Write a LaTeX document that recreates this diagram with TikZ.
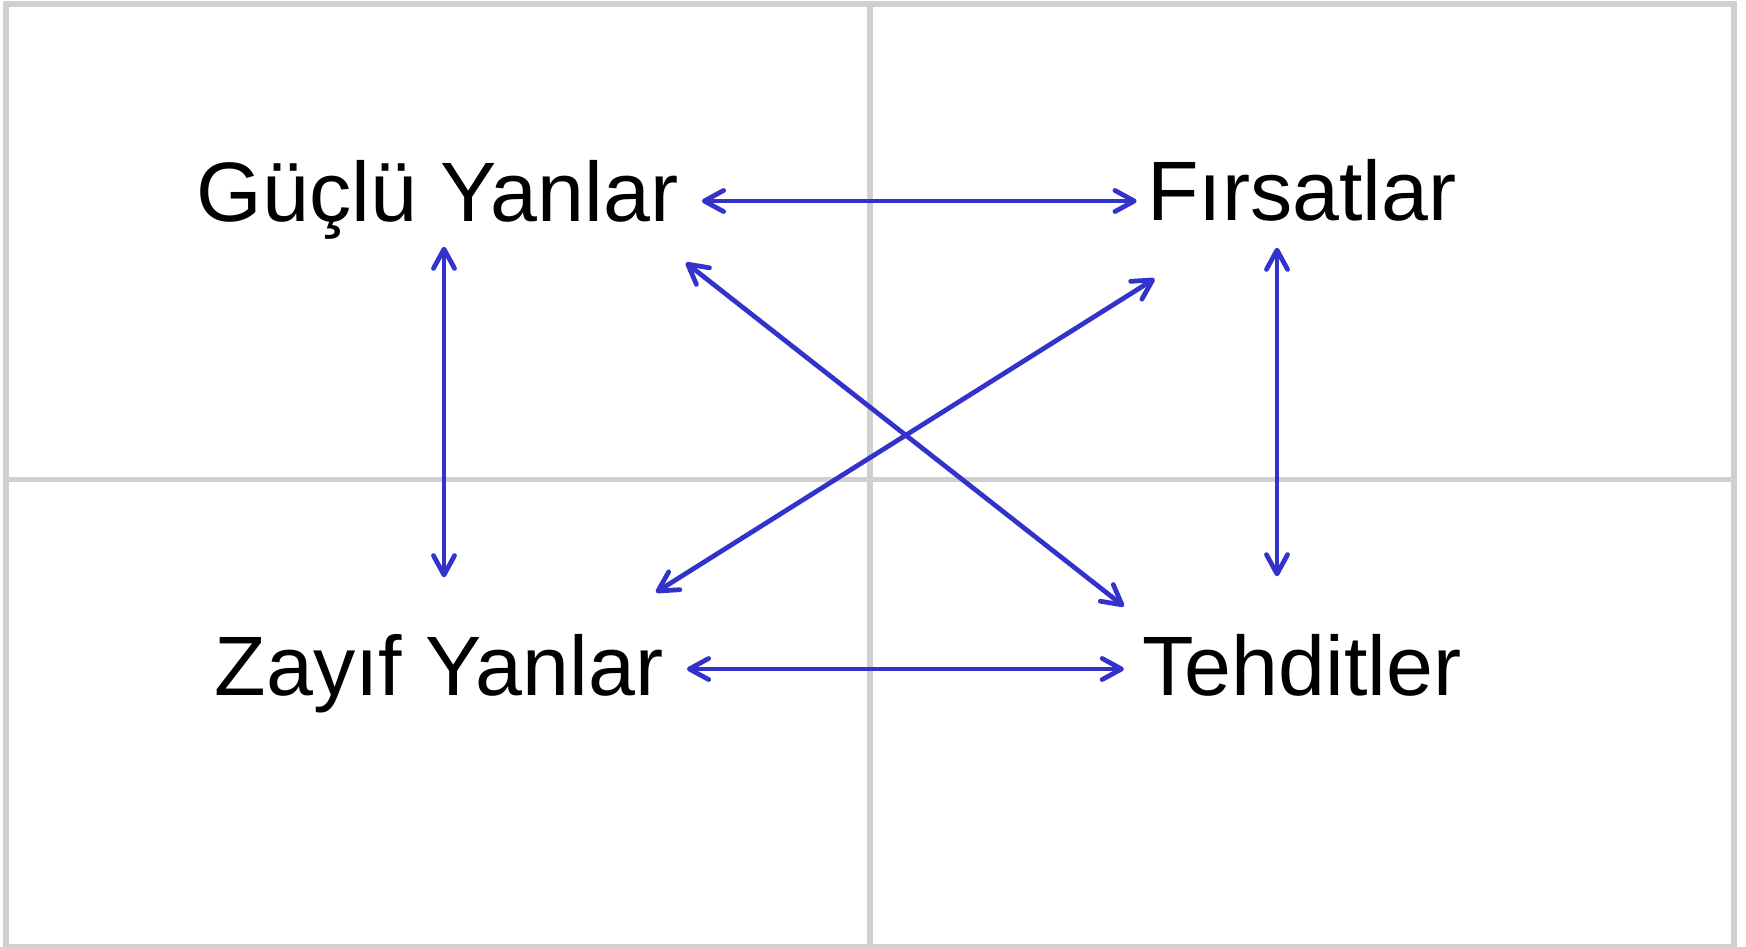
\documentclass[tikz,border=0pt]{standalone}
\usepackage{fontspec}
\setmainfont{Liberation Sans}
\usetikzlibrary{arrows.meta}
\definecolor{swotblue}{RGB}{51,51,204}
\definecolor{gridgray}{RGB}{208,208,208}
\tikzset{
  lbl/.style={font=\fontsize{24pt}{29pt}\selectfont, anchor=base,
    text height=0.63cm, text depth=0.2cm, inner xsep=0.1cm, inner ysep=0.05cm},
  link/.style={draw=swotblue, line width=1.35pt,
    {Straight Barb[length=5.5pt,width=6pt,round]}-{Straight Barb[length=5.5pt,width=6pt,round]}},
  gridline/.style={draw=gridgray, line width=1.7pt}
}

\begin{document}
\begin{tikzpicture}
\useasboundingbox (0,0) rectangle (17.46,-9.46);
% grid
\draw[gridline] (0.058,-0.04) rectangle (17.34,-9.47);
\draw[gridline] (8.70,-0.04) -- (8.70,-9.47);
\draw[gridline] (0.058,-4.795) -- (17.34,-4.795);

\node[lbl] (gy) at (4.375,-2.21) {Güçlü Yanlar};
\node[lbl] (fi) at (13.02,-2.20) {Fırsatlar};
\node[lbl] (zy) at (4.39,-6.95) {Zayıf Yanlar};
\node[lbl] (te) at (13.02,-6.95) {Tehditler};

\draw[link, shorten <=0.13cm] ([yshift=-0.015cm]gy.east) -- ([yshift=-0.015cm]gy.east -| fi.west);
\draw[link, shorten <=0.13cm, shorten >=0.08cm] ([yshift=0.045cm]zy.east) -- ([yshift=0.045cm]zy.east -| te.west);
\draw[link, shorten >=0.49cm] ([xshift=0.065cm]gy.south) -- ([xshift=0.065cm]gy.south |- zy.north);
\draw[link, shorten <=0.02cm, shorten >=0.5cm] ([xshift=-0.25cm]fi.south) -- ([xshift=-0.25cm]fi.south |- te.north);
\draw[link] ([shift={(-0.03,-0.16)}]gy.south east) -- ([shift={(-0.08,0.2)}]te.north west);
\draw[link] ([shift={(0.18,-0.33)}]fi.south west) -- ([shift={(-0.18,0.34)}]zy.north east);
\end{tikzpicture}
\end{document}
